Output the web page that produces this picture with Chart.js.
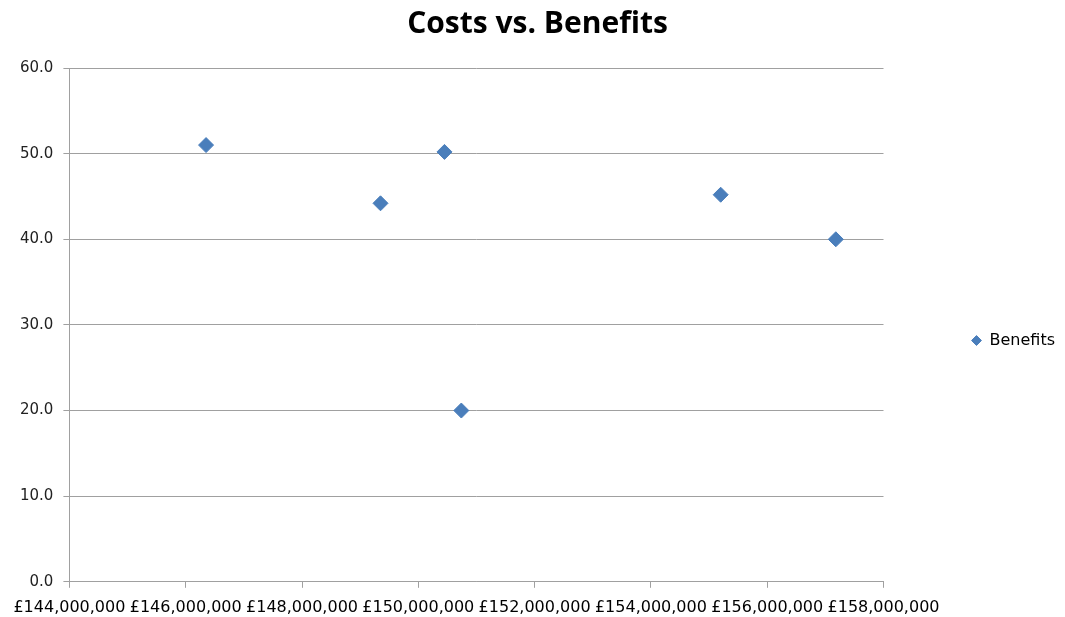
<!DOCTYPE html>
<html>
<head>
<meta charset="utf-8">
<script src="https://cdn.jsdelivr.net/npm/chart.js@4.4.0/dist/chart.umd.min.js"></script>
<style>
html,body{margin:0;padding:0;background:#fff;}
#wrap{width:1065px;height:617px;position:relative;}
</style>
</head>
<body>
<div id="wrap"><canvas id="c" width="1065" height="617"></canvas></div>
<script>
const chartTitle = "Costs vs. Benefits";
const seriesName = "Benefits";
const costs = [146350000, 149350000, 150450000, 150740000, 155200000, 157180000];
const benefits = [51.0, 44.2, 50.2, 20.0, 45.2, 40.0];
const xMin = 144000000, xMax = 158000000, xStep = 2000000;
const yMin = 0, yMax = 60, yStep = 10;

const points = costs.map((c, i) => ({x: c, y: benefits[i]}));
const blue = '#4a7ebb';
const gridCol = '#a0a0a0';

new Chart(document.getElementById('c'), {
  type: 'scatter',
  data: {
    datasets: [{
      label: seriesName,
      data: points,
      pointStyle: 'rectRot',
      pointRadius: 7.5,
      pointHoverRadius: 7.5,
      backgroundColor: blue,
      borderColor: blue,
      borderWidth: 1
    }]
  },
  options: {
    responsive: false,
    animation: false,
    devicePixelRatio: 1,
    layout: {padding: {left: 10, right: 0, top: 6, bottom: -10}},
    plugins: {
      title: {
        display: true,
        text: chartTitle,
        color: '#000',
        font: {family: 'Open Sans', size: 30, weight: 'bold'},
        padding: {top: 0, bottom: 26}
      },
      legend: {
        position: 'right',
        title: {display: true, text: ' ', font: {size: 10}, padding: {top: 36, bottom: 0}},
        labels: {
          usePointStyle: true,
          pointStyle: 'rectRot',
          boxWidth: 10,
          boxHeight: 7,
          padding: 88,
          color: '#000',
          font: {family: 'DejaVu Sans', size: 16}
        }
      },
      tooltip: {enabled: false}
    },
    scales: {
      x: {
        type: 'linear',
        min: xMin, max: xMax,
        ticks: {
          stepSize: xStep,
          autoSkip: false,
          maxRotation: 0,
          color: '#000',
          padding: 10,
          font: {family: 'DejaVu Sans', size: 16},
          callback: v => '£' + Number(v).toLocaleString('en-GB')
        },
        grid: {drawOnChartArea: false, drawTicks: true, tickLength: 6, color: gridCol},
        border: {color: gridCol, width: 1}
      },
      y: {
        min: yMin, max: yMax,
        ticks: {
          stepSize: yStep,
          color: '#222',
          padding: 10,
          font: {family: 'DejaVu Sans', size: 15},
          callback: v => Number(v).toFixed(1)
        },
        grid: {color: gridCol, tickLength: 6, lineWidth: 1},
        border: {color: gridCol, width: 1}
      }
    }
  }
});
</script>
</body>
</html>
